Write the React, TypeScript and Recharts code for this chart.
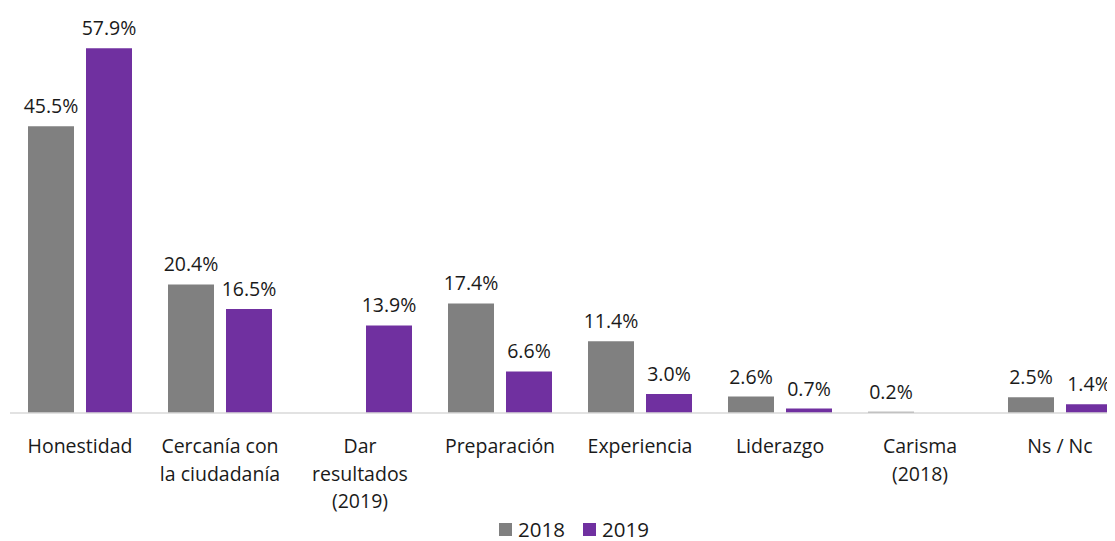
import React from "react"
import { BarChart, Bar, XAxis, YAxis, Legend, LabelList } from "recharts"

const categories = [
  "Honestidad",
  "Cercanía con\nla ciudadanía",
  "Dar\nresultados\n(2019)",
  "Preparación",
  "Experiencia",
  "Liderazgo",
  "Carisma\n(2018)",
  "Ns / Nc",
]
const values2018 = [45.5, 20.4, null, 17.4, 11.4, 2.6, 0.2, 2.5]
const values2019 = [57.9, 16.5, 13.9, 6.6, 3.0, 0.7, null, 1.4]

const data = categories.map((name, i) => ({
  name,
  y2018: values2018[i],
  y2019: values2019[i],
}))

const font = "'Open Sans', sans-serif"
const textColor = "#1a1a1a"
const fontSize = 19.5

const MultiLineTick = (props: any) => {
  const { x, y, payload } = props
  const lines = String(payload.value).split("\n")
  return (
    <text x={x} y={y} textAnchor="middle" fill={textColor} fontSize={fontSize} fontFamily={font}>
      {lines.map((line, i) => (
        <tspan key={i} x={x} dy={i === 0 ? 32 : 27.5}>
          {line}
        </tspan>
      ))}
    </text>
  )
}

const LegendContent = () => (
  <div
    style={{
      display: "flex",
      justifyContent: "center",
      fontFamily: font,
      fontSize: 20.5,
      color: textColor,
      lineHeight: "24px",
      paddingTop: 6,
    }}
  >
    <span style={{ display: "flex", alignItems: "center", marginRight: 18 }}>
      <span style={{ width: 13, height: 13, background: "#808080", marginRight: 6 }} />
      2018
    </span>
    <span style={{ display: "flex", alignItems: "center" }}>
      <span style={{ width: 13, height: 13, background: "#7030A0", marginRight: 6 }} />
      2019
    </span>
  </div>
)

const fmt = (v: any) => (v == null ? "" : `${Number(v).toFixed(1)}%`)

export default function App() {
  return (
    <div style={{ width: 1107, height: 533, overflow: "hidden", background: "#fff" }}>
      <BarChart
        width={1122}
        height={533}
        data={data}
        margin={{ top: 27, right: 0, left: 2, bottom: 0 }}
        barCategoryGap={18}
        barGap={12}
      >
        <XAxis
          dataKey="name"
          axisLine={{ stroke: "#d9d9d9", strokeWidth: 1.5 }}
          tickLine={false}
          tick={<MultiLineTick />}
          height={98}
          interval={0}
        />
        <YAxis hide domain={[0, 60]} />
        <Legend
          verticalAlign="bottom"
          content={<LegendContent />}
          wrapperStyle={{ height: 30, left: 6, bottom: 0 }}
        />
        <Bar dataKey="y2018" name="2018" fill="#808080" barSize={46} isAnimationActive={false}>
          <LabelList
            dataKey="y2018"
            position="top"
            offset={13}
            formatter={fmt}
            style={{ fill: textColor, fontSize, fontFamily: font }}
          />
        </Bar>
        <Bar dataKey="y2019" name="2019" fill="#7030A0" barSize={46} isAnimationActive={false}>
          <LabelList
            dataKey="y2019"
            position="top"
            offset={13}
            formatter={fmt}
            style={{ fill: textColor, fontSize, fontFamily: font }}
          />
        </Bar>
      </BarChart>
    </div>
  )
}
